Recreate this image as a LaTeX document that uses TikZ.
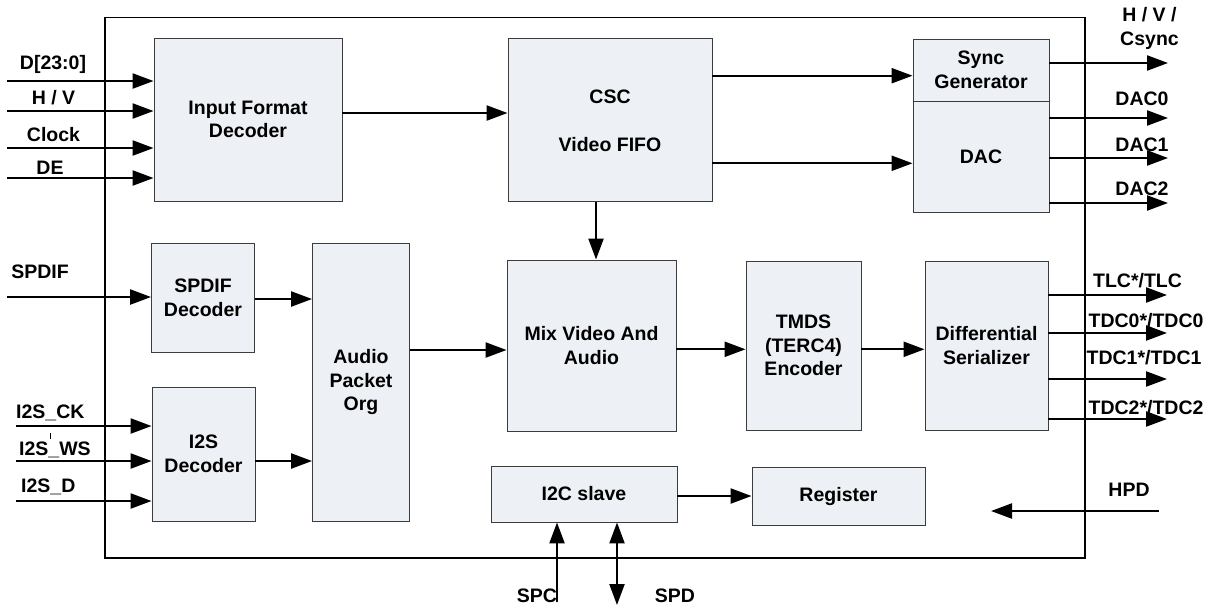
\documentclass[tikz,border=0pt]{standalone}
\usepackage{fontspec}
\setmainfont{Liberation Sans}
\usetikzlibrary{arrows.meta,calc}
\definecolor{boxfill}{HTML}{EDF0F5}
\definecolor{boxline}{HTML}{3C3C3C}
\begin{document}
\begin{tikzpicture}[x=1pt,y=-1pt,
  font=\fontsize{19.5}{23.5}\selectfont\bfseries,
  blk/.style={draw=boxline, fill=boxfill, line width=0.9pt, inner sep=0pt, align=center, anchor=center},
  arr/.style={line width=2.3pt, -{Triangle[length=21pt,width=15pt]}},
  arrtwo/.style={line width=2.3pt, {Triangle[length=21pt,width=15pt]}-{Triangle[length=21pt,width=15pt]}},
  lbl/.style={inner sep=0pt, align=center}]
\useasboundingbox (0,0) rectangle (1218,611);
\fill[white] (0,0) rectangle (1218,611);

% outer frame
\draw[line width=1.3pt] (105,17.5) rectangle (1085,558);

% blocks
\node[blk,minimum width=188pt,minimum height=163pt] (ifd) at (248,119.5) {Input Format\\Decoder};
\node[blk,minimum width=204pt,minimum height=163pt] (csc) at (610,120.3) {CSC\\[24.5pt]Video FIFO};
\node[blk,minimum width=136pt,minimum height=62pt] (sync) at (981,70) {Sync\\Generator};
\node[blk,minimum width=136pt,minimum height=111pt] (dac) at (981,156.5) {DAC};
\node[blk,minimum width=103pt,minimum height=109pt] (spdec) at (203,297.8) {SPDIF\\Decoder};
\node[blk,minimum width=103pt,minimum height=134pt] (i2sdec) at (203.5,454) {I2S\\Decoder};
\node[blk,minimum width=97pt,minimum height=278pt] (apo) at (361,382) {Audio\\Packet\\Org};
\node[blk,minimum width=169pt,minimum height=171pt] (mix) at (591.5,345.5) {Mix Video And\\Audio};
\node[blk,minimum width=115pt,minimum height=169pt] (tmds) at (803.5,345.5) {TMDS\\(TERC4)\\Encoder};
\node[blk,minimum width=123pt,minimum height=169pt] (diff) at (986.5,345.5) {Differential\\Serializer};
\node[blk,minimum width=186pt,minimum height=56pt] (i2c) at (584,494) {I2C slave};
\node[blk,minimum width=173pt,minimum height=58pt] (reg) at (838.5,496) {Register};

% internal connectors
\draw[arr] (ifd.east |- 0,113) -- (csc.west |- 0,113);
\draw[arr] (csc.east |- 0,75.7) -- (sync.west |- 0,75.7);
\draw[arr] (csc.east |- 0,163.3) -- (dac.west |- 0,163.3);
\draw[arr] (csc.south -| 596,0) -- (mix.north -| 596,0);
\draw[arr] (spdec.east |- 0,299) -- (apo.west |- 0,299);
\draw[arr] (i2sdec.east |- 0,461) -- (apo.west |- 0,461);
\draw[arr] (apo.east |- 0,350) -- (mix.west |- 0,350);
\draw[arr] (mix.east |- 0,349.3) -- (tmds.west |- 0,349.3);
\draw[arr] (tmds.east |- 0,349.3) -- (diff.west |- 0,349.3);
\draw[arr] (i2c.east |- 0,496) -- (reg.west |- 0,496);

% video inputs
\coordinate (inD) at (7,81);
\coordinate (inHV) at (7,111);
\coordinate (inClk) at (7,148);
\coordinate (inDE) at (7,178);
\draw[arr] (inD) -- (inD -| ifd.west);
\draw[arr] (inHV) -- (inHV -| ifd.west);
\draw[arr] (inClk) -- (inClk -| ifd.west);
\draw[arr] (inDE) -- (inDE -| ifd.west);
\node[lbl] (lD) at (53,64) {D[23:0]};
\node[lbl] (lHV) at (53.5,98) {H / V};
\node[lbl] (lClk) at (53.5,135) {Clock};
\node[lbl] (lDE) at (50,168) {DE};

% audio inputs
\coordinate (inSP) at (7,297);
\draw[arr] (inSP) -- (inSP -| spdec.west);
\node[lbl] (lSP) at (40,272) {SPDIF};
\coordinate (inCK) at (16,426);
\coordinate (inWS) at (16,461);
\coordinate (inDD) at (16,501);
\draw[arr] (inCK) -- (inCK -| i2sdec.west);
\draw[arr] (inWS) -- (inWS -| i2sdec.west);
\draw[arr] (inDD) -- (inDD -| i2sdec.west);
\node[lbl,anchor=west] (lCK) at (16,413) {I2S\_CK};
\node[lbl,anchor=west] (lWS) at (19,450) {I2S\_WS};
\node[lbl,anchor=west] (lDD) at (21,487) {I2S\_D};
\draw[line width=0.6pt] (50,433) -- (50,439);

% video outputs
\coordinate (oSync) at (1168,63);
\coordinate (oD0) at (1168,118);
\coordinate (oD1) at (1168,158);
\coordinate (oD2) at (1168,203);
\draw[arr] (oSync -| sync.east) -- (oSync);
\draw[arr] (oD0 -| dac.east) -- (oD0);
\draw[arr] (oD1 -| dac.east) -- (oD1);
\draw[arr] (oD2 -| dac.east) -- (oD2);
\node[lbl] (lSync) at (1149.5,28.5) {H / V /\\Csync};
\node[lbl] (lD0) at (1142,99) {DAC0};
\node[lbl] (lD1) at (1142,145) {DAC1};
\node[lbl] (lD2) at (1142,189) {DAC2};

% TMDS outputs
\coordinate (oTLC) at (1167,295);
\coordinate (oT0) at (1167,333);
\coordinate (oT1) at (1167,379);
\coordinate (oT2) at (1167,419);
\draw[arr] (oTLC -| diff.east) -- (oTLC);
\draw[arr] (oT0 -| diff.east) -- (oT0);
\draw[arr] (oT1 -| diff.east) -- (oT1);
\draw[arr] (oT2 -| diff.east) -- (oT2);
\node[lbl] (lTLC) at (1137.5,281) {TLC*/TLC};
\node[lbl] (lT0) at (1146,321) {TDC0*/TDC0};
\node[lbl] (lT1) at (1144,358) {TDC1*/TDC1};
\node[lbl] (lT2) at (1146,408) {TDC2*/TDC2};

% HPD
\coordinate (hpdA) at (1159,511);
\coordinate (hpdB) at (991,511);
\draw[arr] (hpdA) -- (hpdB);
\node[lbl] (lHPD) at (1129,490) {HPD};

% I2C pins
\coordinate (spc) at (557,602);
\coordinate (spd) at (617,605);
\draw[arr] (spc) -- (spc |- i2c.south);
\draw[arrtwo] (spd) -- (spd |- i2c.south);
\node[lbl] (lSPC) at (537,596) {SPC};
\node[lbl] (lSPD) at (675,596) {SPD};
\end{tikzpicture}
\end{document}
